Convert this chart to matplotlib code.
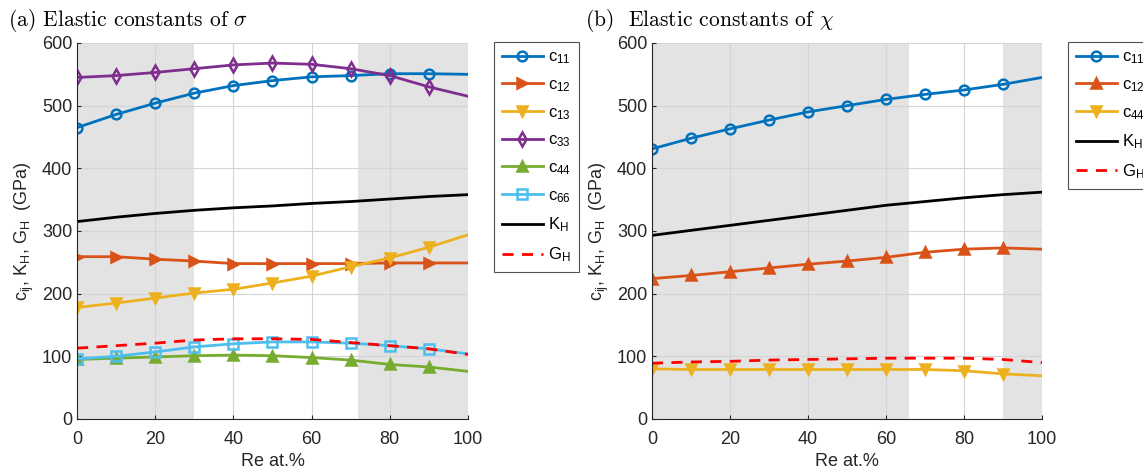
import numpy as np
import matplotlib.pyplot as plt

plt.rcParams['mathtext.fontset'] = 'cm'
plt.rcParams['font.family'] = ['Liberation Sans', 'DejaVu Sans']

# Re at.% values
re = [0, 10, 20, 30, 40, 50, 60, 70, 80, 90, 100]

# (a) sigma phase
s_c11 = [465, 486, 504, 520, 532, 540, 546, 548, 551, 551, 550]
s_c12 = [259, 259, 255, 252, 248, 248, 248, 248, 249, 249, 249]
s_c13 = [178, 185, 193, 201, 207, 217, 228, 243, 257, 274, 294]
s_c33 = [545, 548, 553, 559, 565, 568, 566, 559, 548, 530, 515]
s_c44 = [95, 97, 99, 101, 102, 101, 98, 94, 87, 83, 76]
s_c66 = [96, 100, 107, 115, 120, 123, 123, 121, 117, 112, 104]
s_KH = [315, 322, 328, 333, 337, 340, 344, 347, 351, 355, 358]
s_GH = [113, 117, 121, 126, 128, 128, 127, 122, 117, 112, 103]
s_shade = [(0, 30), (72, 100)]

# (b) chi phase
x_c11 = [431, 448, 463, 477, 490, 500, 510, 518, 525, 534, 545]
x_c12 = [224, 229, 235, 241, 247, 252, 258, 266, 271, 273, 271]
x_c44 = [80, 79, 79, 79, 79, 79, 79, 79, 77, 72, 69]
x_KH = [293, 301, 309, 317, 325, 333, 341, 347, 353, 358, 362]
x_GH = [89, 91, 92, 94, 95, 96, 97, 97, 97, 95, 90]
x_shade = [(0, 66), (90, 100)]

blue, orange, yellow = '#0072BD', '#D95319', '#EDB120'
purple, green, cyan = '#7E2F8E', '#77AC30', '#4DBEEE'

fig = plt.figure(figsize=(11.43, 4.72), dpi=100)
ax1 = fig.add_axes([0.0674, 0.1123, 0.342, 0.7966])
ax2 = fig.add_axes([0.5704, 0.1123, 0.3412, 0.7966])

mk = slice(0, 10)


def curve(ax, y, color, marker, label, filled=False):
    ax.plot(re, y, color=color, lw=2, marker=marker, ms=7,
            mew=1.8, mfc=color if filled else 'none', mec=color,
            markevery=mk, label=label)


curve(ax1, s_c11, blue, 'o', '$\\mathregular{c_{11}}$')
curve(ax1, s_c12, orange, '>', '$\\mathregular{c_{12}}$', True)
curve(ax1, s_c13, yellow, 'v', '$\\mathregular{c_{13}}$', True)
curve(ax1, s_c33, purple, 'd', '$\\mathregular{c_{33}}$')
curve(ax1, s_c44, green, '^', '$\\mathregular{c_{44}}$', True)
curve(ax1, s_c66, cyan, 's', '$\\mathregular{c_{66}}$')
ax1.plot(re, s_KH, color='black', lw=2, label='$\\mathregular{K_H}$')
ax1.plot(re, s_GH, color='red', lw=2, ls=(0, (4, 3)), label='$\\mathregular{G_H}$')

curve(ax2, x_c11, blue, 'o', '$\\mathregular{c_{11}}$')
curve(ax2, x_c12, orange, '^', '$\\mathregular{c_{12}}$', True)
curve(ax2, x_c44, yellow, 'v', '$\\mathregular{c_{44}}$', True)
ax2.plot(re, x_KH, color='black', lw=2, label='$\\mathregular{K_H}$')
ax2.plot(re, x_GH, color='red', lw=2, ls=(0, (4, 3)), label='$\\mathregular{G_H}$')

for ax, shade in [(ax1, s_shade), (ax2, x_shade)]:
    for a, b in shade:
        ax.axvspan(a, b, color='#e3e3e3', lw=0, zorder=0.1)
    ax.set_axisbelow(True)
    ax.set_xlim(0, 100)
    ax.set_ylim(0, 600)
    ax.set_xticks(range(0, 101, 20))
    ax.set_yticks(range(0, 601, 100))
    ax.grid(True, color='#d4d4d4', lw=0.8)
    ax.spines['top'].set_visible(False)
    ax.spines['right'].set_visible(False)
    for s in ('left', 'bottom'):
        ax.spines[s].set_color('#262626')
        ax.spines[s].set_linewidth(0.8)
    ax.tick_params(direction='in', length=3, labelsize=13, colors='#262626')
    ax.tick_params(axis='x', pad=9)
    ax.set_xlabel('Re at.%', fontsize=13, color='#262626', labelpad=3)
    ax.set_ylabel('$\\mathregular{c_{ij}}$, $\\mathregular{K_H}$, $\\mathregular{G_H}$  (GPa)',
                  fontsize=13, color='#262626', labelpad=4)

leg_kw = dict(loc='upper left', fontsize=12, frameon=True, fancybox=False,
              edgecolor='#262626', handlelength=2.5, labelspacing=0.66,
              handletextpad=0.3, borderpad=0.45, borderaxespad=0)
l1 = ax1.legend(bbox_to_anchor=(0.4322, 0.911), bbox_transform=fig.transFigure, **leg_kw)
l2 = ax2.legend(bbox_to_anchor=(0.9344, 0.911), bbox_transform=fig.transFigure, **leg_kw)
for l in (l1, l2):
    l.get_frame().set_linewidth(0.8)

fig.text(0.007, 0.945, '(a) Elastic constants of $\\sigma$', fontsize=15.5,
         family='cmr10', va='baseline')
fig.text(0.512, 0.945, '(b)  Elastic constants of $\\chi$', fontsize=15.5,
         family='cmr10', va='baseline')

fig.savefig('out.png', dpi=100)
